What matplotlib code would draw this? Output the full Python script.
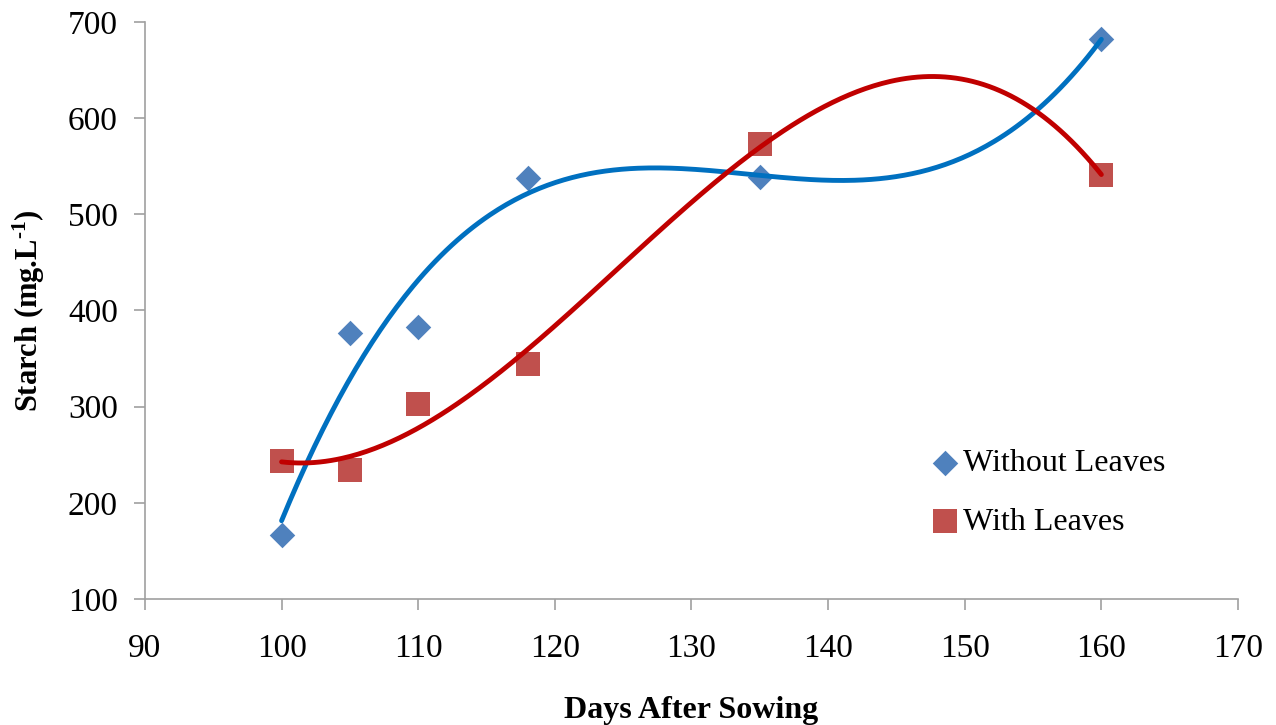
import numpy as np
import matplotlib
matplotlib.use("Agg")
import matplotlib.pyplot as plt

days = [100, 105, 110, 118, 135, 160]
without_leaves = [167, 377, 383, 538, 539, 682]
with_leaves = [244, 234, 303, 344, 573, 541]

xticks = [90, 100, 110, 120, 130, 140, 150, 160, 170]
yticks = [100, 200, 300, 400, 500, 600, 700]

plt.rcParams['font.family'] = ['Liberation Serif', 'DejaVu Serif']
plt.rcParams['mathtext.fontset'] = 'custom'
plt.rcParams['mathtext.rm'] = 'Liberation Serif:bold'
plt.rcParams['mathtext.bf'] = 'Liberation Serif:bold'
plt.rcParams['mathtext.it'] = 'Liberation Serif:bold'

fig = plt.figure(figsize=(12.76, 7.25), dpi=100)
ax = fig.add_axes([0.1136, 0.1738, 0.8566, 0.7959])

xs = np.linspace(min(days), max(days), 300)
cb = np.polyfit(days, without_leaves, 3)
cr = np.polyfit(days, with_leaves, 3)

ax.scatter(days, without_leaves, marker='D', s=13**2, color='#4F81BD', zorder=2,
           label='Without Leaves', linewidths=0)
ax.scatter(days, with_leaves, marker='s', s=17**2, color='#C0504D', zorder=2,
           label='With Leaves', linewidths=0)
ax.plot(xs, np.polyval(cb, xs), color='#0070C0', lw=3.5, zorder=3, solid_capstyle='round')
ax.plot(xs, np.polyval(cr, xs), color='#C00000', lw=3.5, zorder=3, solid_capstyle='round')

ax.set_xlim(90, 170)
ax.set_ylim(100, 700)
ax.set_xticks(xticks)
ax.set_yticks(yticks)
for s in ['top', 'right']:
    ax.spines[s].set_visible(False)
for s in ['left', 'bottom']:
    ax.spines[s].set_color('#A0A0A0')
    ax.spines[s].set_linewidth(1.2)
ax.tick_params(direction='out', length=8, width=1.2, color='#A0A0A0', labelsize=24)
ax.tick_params(axis='x', pad=17)
ax.tick_params(axis='y', pad=11.5)

ax.set_xlabel('Days After Sowing', fontsize=23, fontweight='bold', labelpad=23)
ax.set_ylabel(r'Starch (mg.L$^{\text{-1}}$)', fontsize=22, fontweight='bold', labelpad=15)

leg = ax.legend(loc='upper left', bbox_to_anchor=(0.709, 0.282), frameon=False,
                fontsize=23, handlelength=0.8, handletextpad=0.15,
                labelspacing=0.9, borderaxespad=0)

fig.savefig('out.png', dpi=100)
